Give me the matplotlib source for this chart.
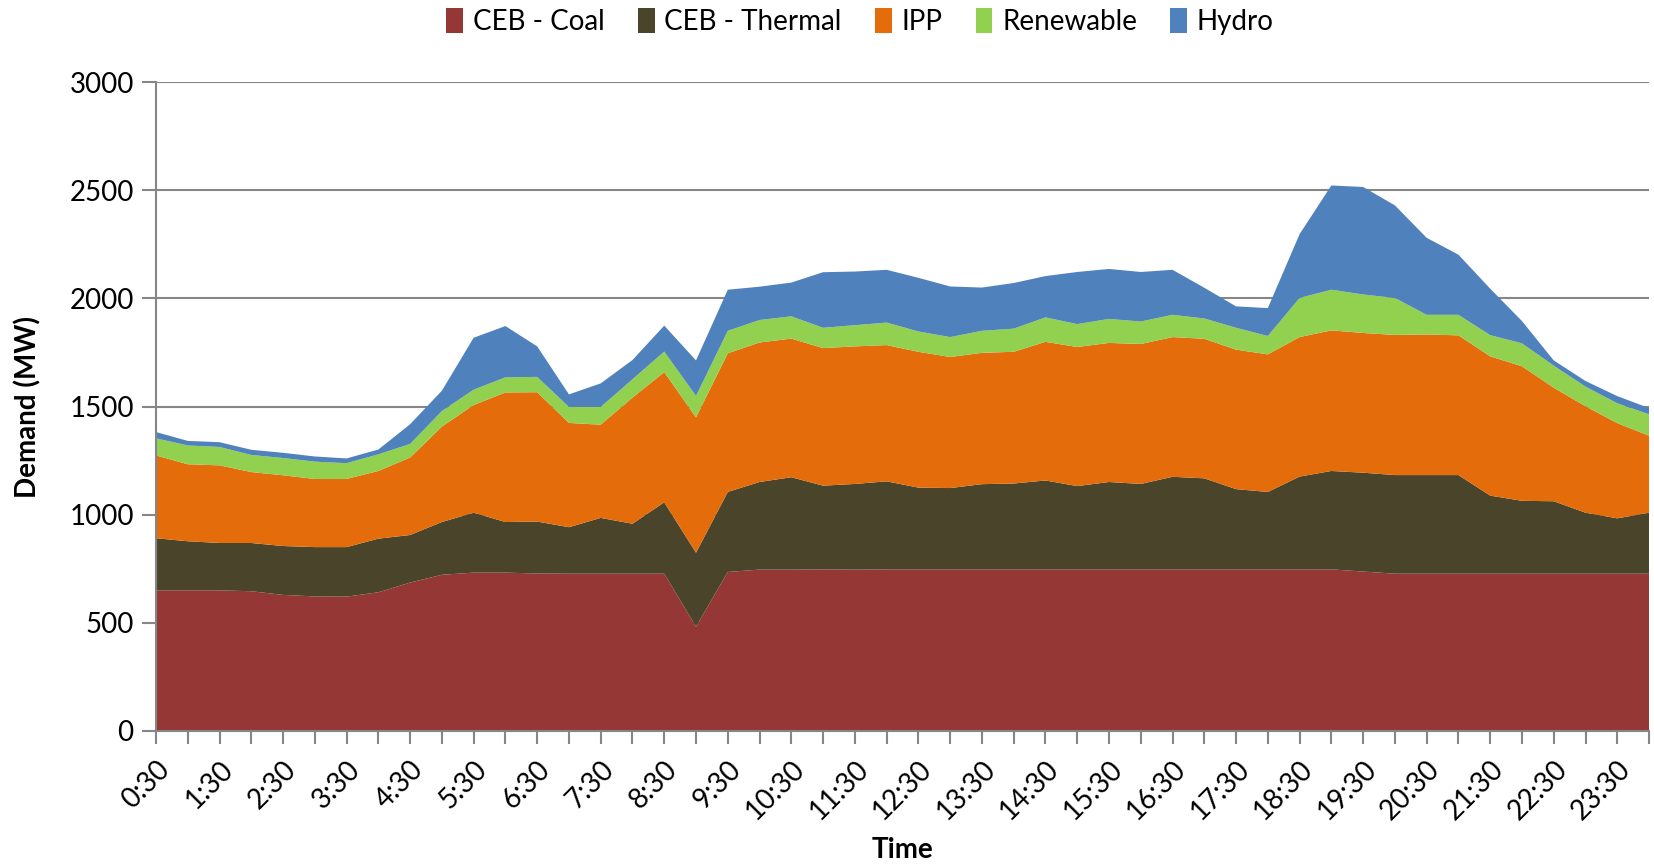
import matplotlib
matplotlib.use("Agg")
import matplotlib.pyplot as plt
from matplotlib.patches import Patch

plt.rcParams['font.family'] = ['Lato', 'DejaVu Sans']

times = []
for h in range(0, 24):
    times.append(f"{h}:30")
    times.append(f"{h+1}:00")

coal = [650, 650, 650, 646, 629, 622, 621, 641, 686, 722, 732, 732, 728, 727, 727, 727,
        727, 482, 735, 746, 746, 747, 746, 747, 747, 747, 747, 747, 747, 747, 747, 747,
        747, 747, 747, 747, 747, 747, 737, 727, 727, 727, 727, 727, 727, 727, 727, 727]
thermal = [241, 227, 219, 223, 226, 228, 229, 248, 220, 244, 277, 234, 240, 215, 258, 231,
           330, 342, 370, 405, 427, 387, 396, 407, 378, 376, 394, 397, 411, 385, 404, 395,
           428, 421, 371, 358, 429, 455, 457, 456, 456, 456, 361, 337, 335, 282, 256, 282]
ipp = [383, 356, 359, 328, 327, 315, 315, 313, 358, 441, 498, 599, 598, 482, 431, 583,
       602, 626, 641, 645, 641, 636, 636, 630, 628, 606, 607, 609, 641, 643, 643, 647,
       646, 645, 645, 636, 645, 650, 646, 648, 650, 646, 644, 622, 525, 492, 440, 356]
renewable = [79, 87, 85, 79, 80, 80, 73, 77, 63, 72, 71, 70, 71, 74, 82, 85,
             95, 99, 104, 104, 103, 94, 98, 104, 94, 92, 102, 107, 113, 106, 111, 104,
             103, 94, 101, 85, 181, 188, 178, 171, 91, 95, 98, 106, 102, 91, 92, 99]
hydro = [29, 21, 22, 24, 24, 24, 22, 22, 91, 94, 240, 237, 141, 58, 109, 89,
         120, 164, 190, 154, 156, 257, 248, 244, 248, 234, 200, 211, 191, 241, 231, 229,
         208, 142, 99, 129, 295, 482, 497, 428, 356, 278, 215, 103, 24, 26, 33, 29]

series_names = ["CEB - Coal", "CEB - Thermal", "IPP", "Renewable", "Hydro"]
colors = ["#953735", "#4A452A", "#E46C0A", "#92D050", "#4F81BD"]

fig = plt.figure(figsize=(16.54, 8.64), dpi=100)
ax = fig.add_axes([0.0943, 0.154, 0.9027, 0.751])

x = list(range(len(times)))
ax.stackplot(x, coal, thermal, ipp, renewable, hydro, colors=colors, labels=series_names,
             linewidth=0, zorder=3)

ax.set_xlim(0, len(times) - 1)
ax.set_ylim(0, 3000)
ax.set_yticks(range(0, 3001, 500))
ax.set_xticks(x)
ax.set_xticklabels([t if i % 2 == 0 else "" for i, t in enumerate(times)],
                   rotation=45, ha='right', rotation_mode='anchor', fontsize=20)
ax.tick_params(axis='y', labelsize=20, length=10, width=1.5, color='#868686', pad=6)
ax.tick_params(axis='x', length=9, width=1.5, color='#868686', pad=9)

ax.grid(axis='y', color='#868686', linewidth=1.5, zorder=0)
for s in ['top', 'right']:
    ax.spines[s].set_visible(False)
for s in ['left', 'bottom']:
    ax.spines[s].set_color('#868686')
    ax.spines[s].set_linewidth(1.5)
    ax.spines[s].set_zorder(4)

ax.set_ylabel("Demand (MW)", fontsize=20, fontweight='bold', labelpad=20)
ax.set_xlabel("Time", fontsize=20, fontweight='bold', labelpad=9)

handles = [Patch(facecolor=c, edgecolor='none') for c in colors]
fig.legend(handles, series_names, loc='center', bbox_to_anchor=(0.52, 0.975), ncol=5,
           frameon=False, fontsize=20, handlelength=0.6, handleheight=1.0,
           handletextpad=0.35, columnspacing=1.2)

fig.savefig("out.png", dpi=100)
